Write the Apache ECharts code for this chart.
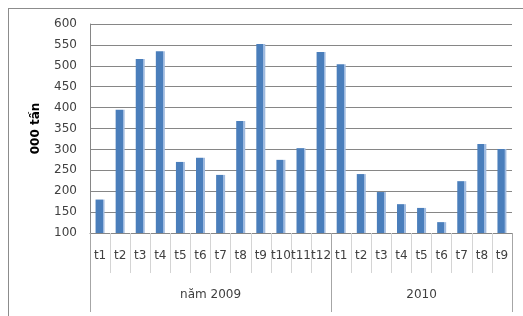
<!DOCTYPE html>
<html><head><meta charset="utf-8">
<script src="https://cdn.jsdelivr.net/npm/echarts@6/dist/echarts.min.js"></script>
<style>
html,body{margin:0;padding:0;background:#fff;overflow:hidden}
#c{width:523px;height:316px}
#frame{position:absolute;left:8px;top:8px;width:540px;height:340px;border:1px solid #8c8c8c;pointer-events:none}
</style></head>
<body>
<div id="c"></div><div id="frame"></div>
<script>
const months = ['t1','t2','t3','t4','t5','t6','t7','t8','t9','t10','t11','t12','t1','t2','t3','t4','t5','t6','t7','t8','t9'];
const values = [180,395,516,535,270,280,239,368,552,275,303,533,504,241,198,169,160,126,224,313,301];
const groups = ['năm 2009','2010'];
const groupCenters = [6,16.5];
const groupBounds = [0,12,21];
const yTicks = {min:100,max:600,interval:50};
const yName = '000 tấn';

const chart = echarts.init(document.getElementById('c'));
const font = 'DejaVu Sans';
chart.setOption({
  animation:false,
  grid:{left:90,right:11,top:24,bottom:83},
  xAxis:[{
    type:'category',data:months,
    axisLine:{show:true,lineStyle:{color:'#868686'}},
    axisTick:{show:true,interval:0,length:40,lineStyle:{color:'#d4d4d4'}},
    axisLabel:{interval:0,margin:17,fontFamily:font,fontSize:12,color:'#404040'},
    splitLine:{show:false}
  },{
    type:'value',min:0,max:21,position:'bottom',
    axisLine:{show:false},
    axisTick:{show:true,customValues:groupBounds,length:79,lineStyle:{color:'#a6a6a6'}},
    axisLabel:{customValues:groupCenters,margin:56,fontFamily:font,fontSize:12,color:'#404040',
      formatter:function(v){const i=groupCenters.indexOf(v);return i>=0?groups[i]:'';}},
    splitLine:{show:false}
  }],
  yAxis:{
    type:'value',min:yTicks.min,max:yTicks.max,interval:yTicks.interval,
    name:yName,nameLocation:'middle',nameGap:48,nameRotate:90,
    nameTextStyle:{fontFamily:font,fontSize:12,fontWeight:'bold',color:'#000'},
    axisLine:{show:true,lineStyle:{color:'#868686'}},
    axisTick:{show:false},
    axisLabel:{margin:13,fontFamily:font,fontSize:12,color:'#404040'},
    splitLine:{lineStyle:{color:'#868686'}}
  },
  series:[{
    type:'bar',data:values,xAxisIndex:0,barWidth:9,
    itemStyle:{color:new echarts.graphic.LinearGradient(0,0,1,0,[
      {offset:0,color:'#4a7ebb'},{offset:0.78,color:'#4a7ebb'},{offset:0.79,color:'#9fbadf'},{offset:1,color:'#9fbadf'}])}
  }]
});
</script>
</body></html>
